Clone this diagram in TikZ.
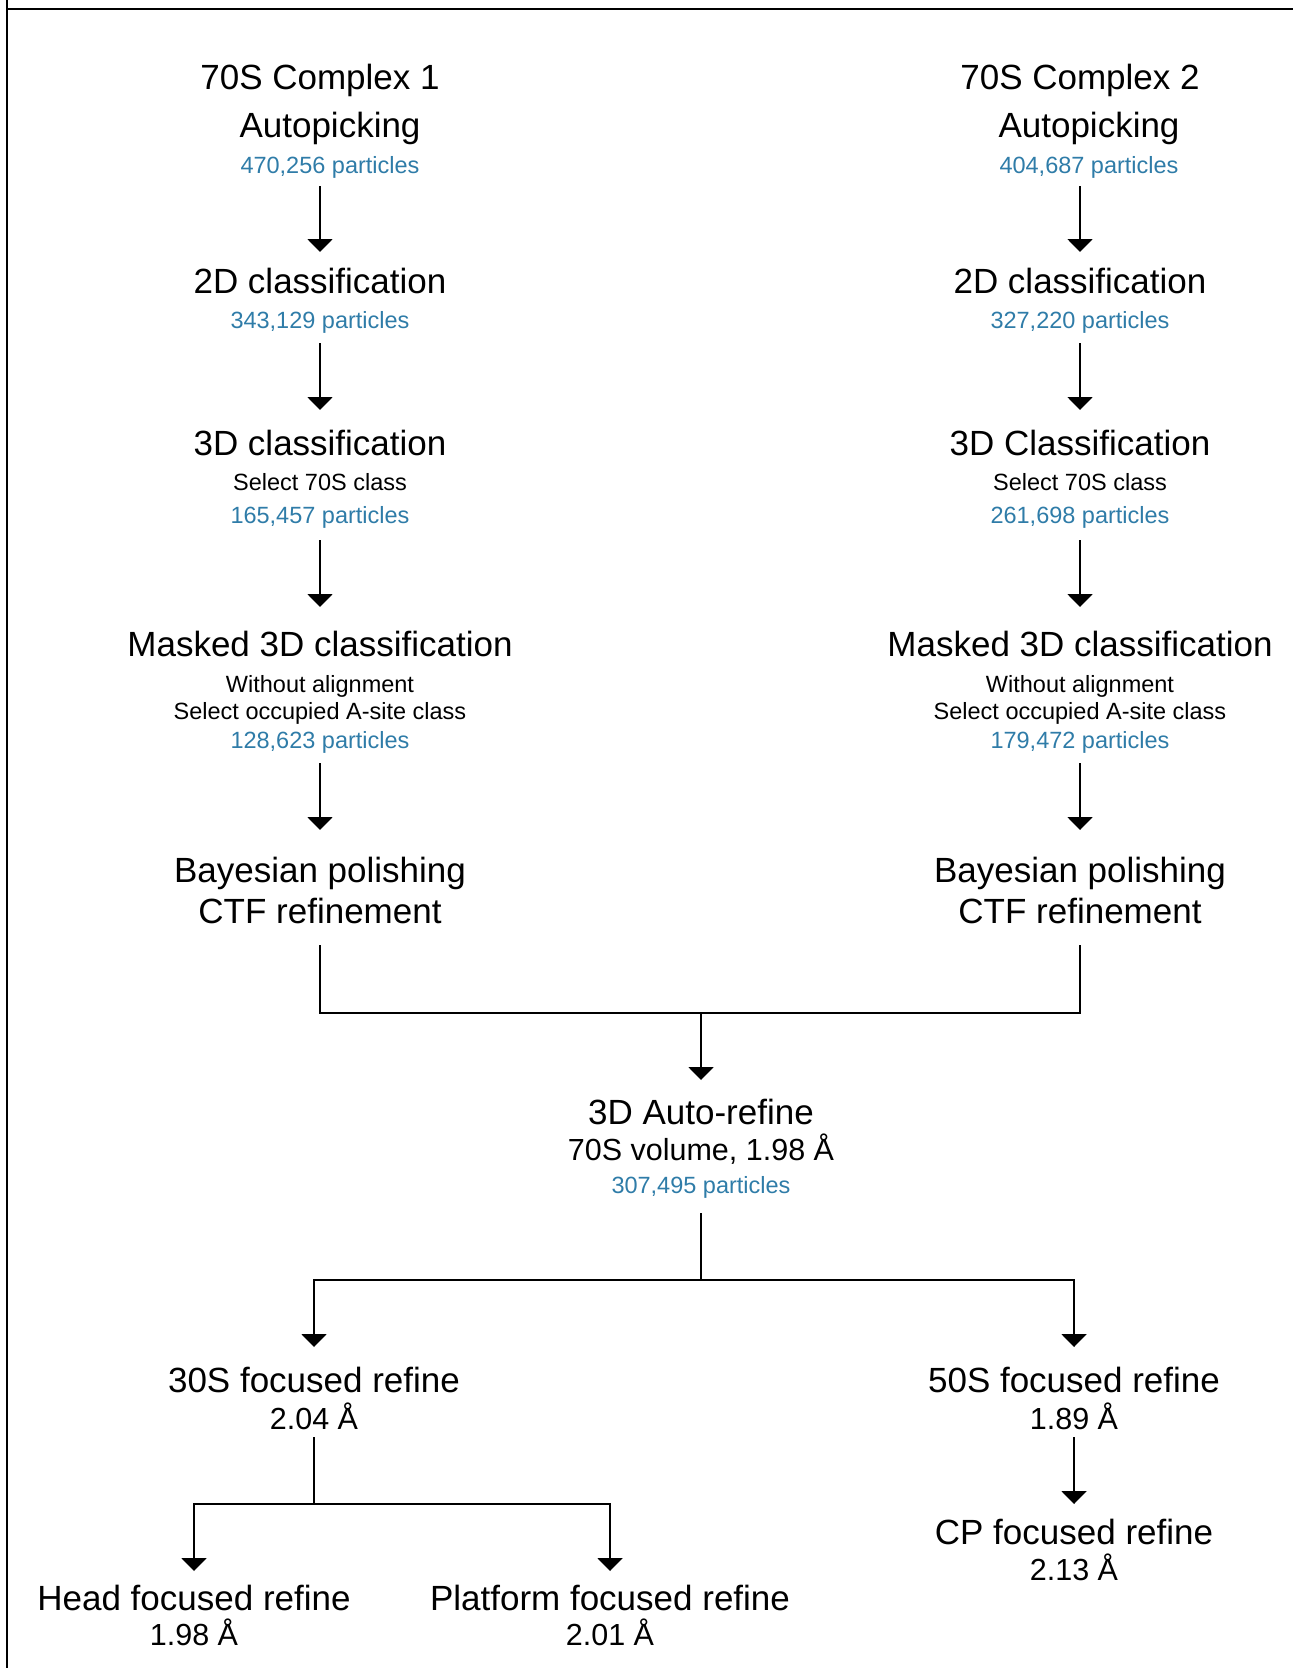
\documentclass[tikz,border=0pt]{standalone}
\usepackage{fontspec}
\setmainfont{Liberation Sans}
\usetikzlibrary{arrows.meta}
\definecolor{pblue}{RGB}{47,124,168}
\tikzset{
  ttl/.style={font=\fontsize{35}{42}\selectfont, anchor=base, inner sep=0pt},
  sbt/.style={font=\fontsize{30.5}{36}\selectfont, anchor=base, inner sep=0pt},
  sml/.style={font=\fontsize{23.5}{28}\selectfont, anchor=base, inner sep=0pt},
  num/.style={sml, text=pblue},
  conn/.style={line width=2pt, draw=black},
  arr/.style={conn, -{Triangle[width=25pt,length=13pt]}},
  frame/.style={line width=2pt, draw=black}
}
\begin{document}
\begin{tikzpicture}[x=1pt,y=-1pt]
\useasboundingbox (0,0) rectangle (1293,1668);
\draw[frame] (7,0) -- (7,1668);
\draw[frame] (6,9) -- (1293,9);

% ---------- left column ----------
\node[ttl] (L1a) at (320,89) {70S Complex 1};
\node[ttl] (L1b) at (330,137) {Autopicking};
\node[num] (L1c) at (330,173) {470,256 particles};
\node[ttl] (L2a) at (320,293) {2D classification};
\node[num] (L2b) at (320,328) {343,129 particles};
\node[ttl] (L3a) at (320,455) {3D classification};
\node[sml] (L3b) at (320,490) {Select 70S class};
\node[num] (L3c) at (320,523) {165,457 particles};
\node[ttl] (L4a) at (320,656) {Masked 3D classification};
\node[sml] (L4b) at (320,692) {Without alignment};
\node[sml] (L4c) at (320,719) {Select occupied A-site class};
\node[num] (L4d) at (320,748) {128,623 particles};
\node[ttl] (L5a) at (320,882) {Bayesian polishing};
\node[ttl] (L5b) at (320,923) {CTF refinement};

% ---------- right column ----------
\node[ttl] (R1a) at (1080,89) {70S Complex 2};
\node[ttl] (R1b) at (1089,137) {Autopicking};
\node[num] (R1c) at (1089,173) {404,687 particles};
\node[ttl] (R2a) at (1080,293) {2D classification};
\node[num] (R2b) at (1080,328) {327,220 particles};
\node[ttl] (R3a) at (1080,455) {3D Classification};
\node[sml] (R3b) at (1080,490) {Select 70S class};
\node[num] (R3c) at (1080,523) {261,698 particles};
\node[ttl] (R4a) at (1080,656) {Masked 3D classification};
\node[sml] (R4b) at (1080,692) {Without alignment};
\node[sml] (R4c) at (1080,719) {Select occupied A-site class};
\node[num] (R4d) at (1080,748) {179,472 particles};
\node[ttl] (R5a) at (1080,882) {Bayesian polishing};
\node[ttl] (R5b) at (1080,923) {CTF refinement};

% ---------- merged ----------
\node[ttl] (A1) at (701,1124) {3D Auto-refine};
\node[sbt] (A2) at (701,1160) {70S volume, 1.98 Å};
\node[num] (A3) at (701,1193) {307,495 particles};

\node[ttl] (S30a) at (314,1392) {30S focused refine};
\node[sbt] (S30b) at (314,1429) {2.04 Å};
\node[ttl] (S50a) at (1074,1392) {50S focused refine};
\node[sbt] (S50b) at (1074,1429) {1.89 Å};

\node[ttl] (Ha) at (194,1610) {Head focused refine};
\node[sbt] (Hb) at (194,1645) {1.98 Å};
\node[ttl] (Pa) at (610,1610) {Platform focused refine};
\node[sbt] (Pb) at (610,1645) {2.01 Å};
\node[ttl] (CPa) at (1074,1544) {CP focused refine};
\node[sbt] (CPb) at (1074,1580) {2.13 Å};

\coordinate (m1) at (701,1013);
\coordinate (m2) at (701,1280);
\coordinate (m3) at (314,1504);

% ---------- connectors ----------
\draw[arr] ([yshift=-13pt,xshift=-10pt]L1c.base) -- ([yshift=41pt]L2a.base);
\draw[arr] ([yshift=-13pt,xshift=-9pt]R1c.base) -- ([yshift=41pt]R2a.base);
\foreach \s in {L,R}{
  \draw[arr] ([yshift=-15pt]\s2b.base) -- ([yshift=45pt]\s3a.base);
  \draw[arr] ([yshift=-17pt]\s3c.base) -- ([yshift=49pt]\s4a.base);
  \draw[arr] ([yshift=-15pt]\s4d.base) -- ([yshift=52pt]\s5a.base);
}
\draw[conn] ([yshift=-22pt]L5b.base) |- (m1) -| ([yshift=-22pt]R5b.base);
\draw[arr] (m1) -- ([yshift=44pt]A1.base);

\draw[conn] ([yshift=-20pt]A3.base) -- (m2);
\draw[arr] (m2) -| ([yshift=45pt]S30a.base);
\draw[arr] (m2) -| ([yshift=45pt]S50a.base);

\draw[conn] ([yshift=-8pt]S30b.base) -- (m3);
\draw[arr] (m3) -| ([yshift=39pt]Ha.base);
\draw[arr] (m3) -| ([yshift=39pt]Pa.base);

\draw[arr] ([yshift=-8pt]S50b.base) -- ([yshift=40pt]CPa.base);
\end{tikzpicture}
\end{document}
